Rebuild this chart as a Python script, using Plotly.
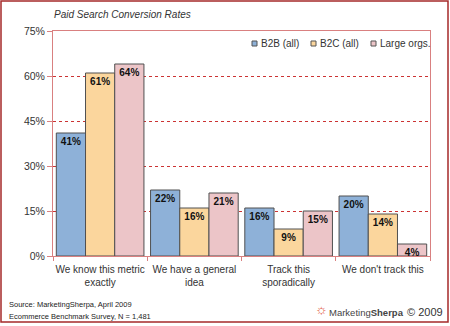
import plotly.graph_objects as go

categories = ["We know this metric<br>exactly", "We have a general<br>idea", "Track this<br>sporadically", "We don't track this"]
series_names = ["B2B (all)", "B2C (all)", "Large orgs."]
b2b = [41, 22, 16, 20]
b2c = [61, 16, 9, 14]
large = [64, 21, 15, 4]
colors = ["#8eb1d8", "#fbd69d", "#ecc5c8"]
y_ticks = [0, 15, 30, 45, 60, 75]

fig = go.Figure()
for name, vals, col in zip(series_names, [b2b, b2c, large], colors):
    fig.add_trace(go.Bar(
        x=categories, y=vals, name=name, showlegend=False,
        marker=dict(color=col, line=dict(color="#505050", width=1)),
        text=[f"{v}%" for v in vals],
        textposition="inside", insidetextanchor="end", constraintext="none",
        textfont=dict(family="Liberation Sans", size=10, color="#111111", weight="bold"),
        textangle=0,
    ))

L, R, T, B = 53, 20, 31, 70
W, H = 450, 326
pw, ph = W - L - R, H - T - B

def px(x):
    return (x - L) / pw

def py(y):
    return (H - B - y) / ph

shapes = [dict(type="rect", xref="paper", yref="paper",
               x0=px(1), x1=px(448), y0=py(322), y1=py(1),
               line=dict(color="#a52a2a", width=1.5), fillcolor="rgba(0,0,0,0)", layer="below")]
annotations = [
    dict(text="<i>Paid Search Conversion Rates</i>", xref="paper", yref="paper",
         x=px(52), y=py(15), xanchor="left", yanchor="middle", showarrow=False,
         font=dict(size=10, color="#333333")),
    dict(text="Source: MarketingSherpa, April 2009", xref="paper", yref="paper",
         x=px(7), y=py(304), xanchor="left", yanchor="middle",
         align="left", showarrow=False, font=dict(size=7.5, color="#222222")),
    dict(text="Ecommerce Benchmark Survey, N = 1,481", xref="paper", yref="paper",
         x=px(7), y=py(316), xanchor="left", yanchor="middle",
         align="left", showarrow=False, font=dict(size=7.5, color="#222222")),
    dict(text="Marketing<b>Sherpa</b>", xref="paper", yref="paper", x=px(406), y=py(312),
         xanchor="right", yanchor="middle", showarrow=False, font=dict(size=9.5, color="#444444")),
    dict(text="© 2009", xref="paper", yref="paper", x=px(445), y=py(312),
         xanchor="right", yanchor="middle", showarrow=False, font=dict(size=11, color="#333333")),
    dict(text="☼", xref="paper", yref="paper", x=px(330), y=py(309),
         xanchor="right", yanchor="middle", showarrow=False, font=dict(size=14, color="#e0503a")),
]

# legend drawn as small squares + labels
legend_x = [252, 311, 371]
for name, col, lx in zip(series_names, colors, legend_x):
    shapes.append(dict(type="rect", xref="paper", yref="paper",
                       x0=px(lx), x1=px(lx + 5), y0=py(46), y1=py(41),
                       line=dict(color="#555555", width=1), fillcolor=col))
    annotations.append(dict(text=name, xref="paper", yref="paper", x=px(lx + 7), y=py(43.5),
                            xanchor="left", yanchor="middle", showarrow=False,
                            font=dict(size=10, color="#333333")))

fig.update_layout(
    width=W, height=H,
    margin=dict(l=L, r=R, t=T, b=B),
    paper_bgcolor="white", plot_bgcolor="white",
    barmode="group", bargap=0.07, bargroupgap=0,
    font=dict(family="Liberation Sans", color="#333333"),
    showlegend=False,
    xaxis=dict(showline=True, linecolor="#d98080", linewidth=1, mirror=True,
               ticks="outside", tickson="boundaries", tickcolor="#d98080", ticklen=4,
               tickangle=0, automargin=False, ticklabelstandoff=4,
               tickfont=dict(size=10, color="#333333"), showgrid=False, fixedrange=True),
    yaxis=dict(range=[0, 75], tickvals=y_ticks, ticktext=[f"{v}%" for v in y_ticks],
               showline=True, linecolor="#d98080", linewidth=1, mirror=True,
               ticks="outside", tickcolor="#d98080", ticklen=5, automargin=False,
               tickfont=dict(size=10.5, color="#333333"),
               showgrid=True, gridcolor="#cc3333", griddash="dot", gridwidth=1,
               zeroline=False),
    shapes=shapes,
    annotations=annotations,
)
fig.write_html("out.html")
